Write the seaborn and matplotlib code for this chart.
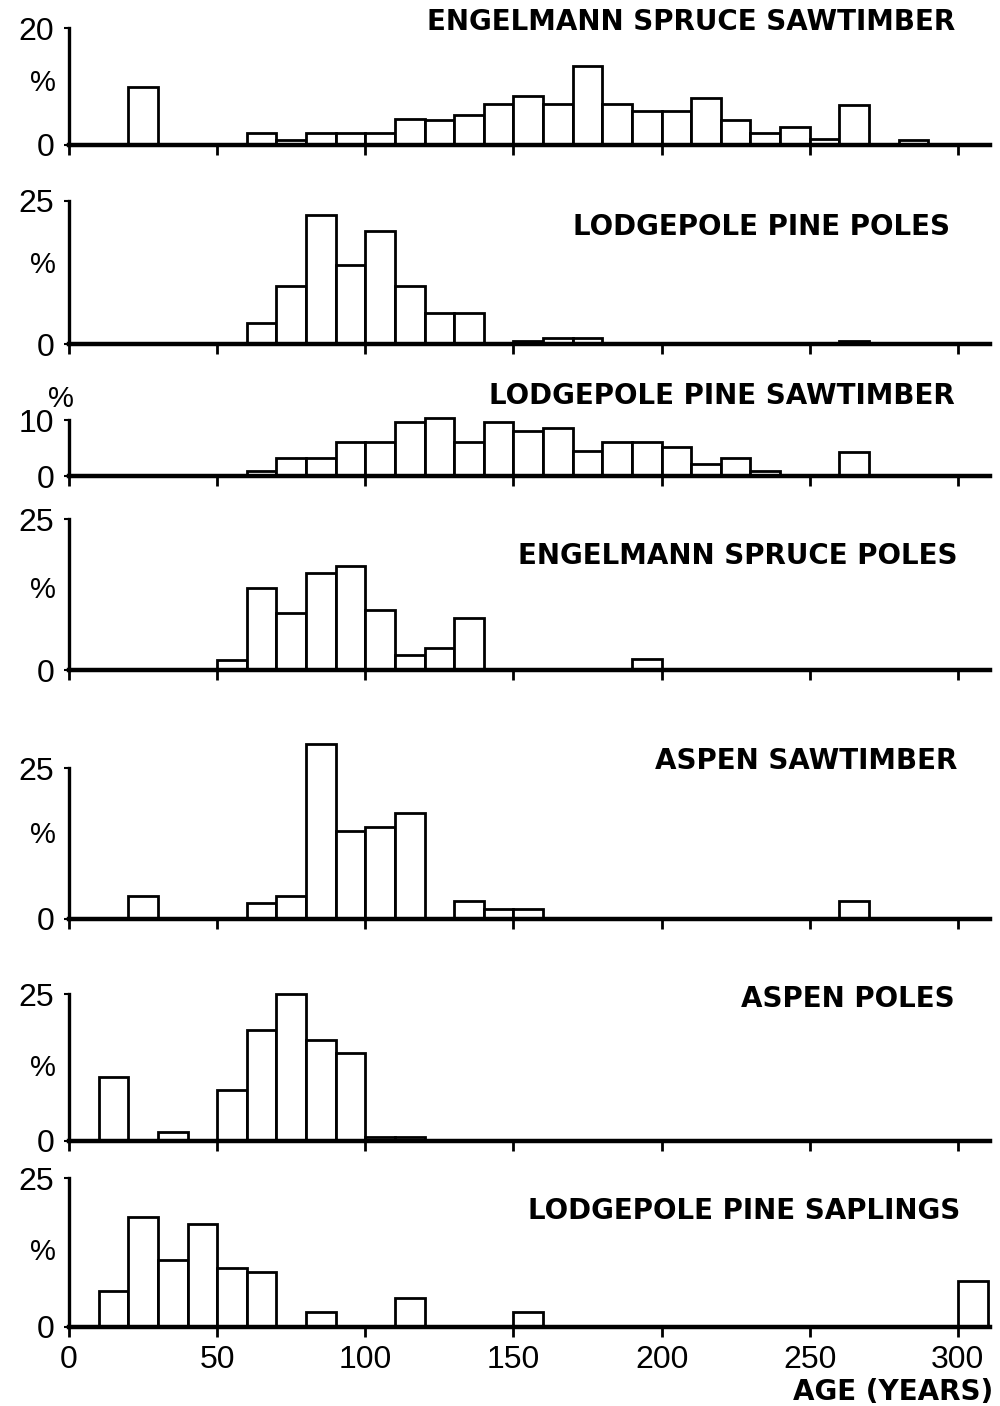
import numpy as np
import pandas as pd
import matplotlib
matplotlib.use("Agg")
import matplotlib.pyplot as plt
import seaborn as sns

# ---- data: percent of stems by 10-year age class (bin start ages) ----
es_saw_age = [20, 60, 70, 80, 90, 100, 110, 120, 130, 140, 150, 160, 170, 180,
              190, 200, 210, 220, 230, 240, 250, 260, 280]
es_saw_pct = [9.9, 2.1, 0.9, 2.0, 2.0, 2.0, 4.5, 4.3, 5.1, 7.0, 8.3, 7.0, 13.5, 7.0,
              5.8, 5.8, 8.1, 4.3, 2.1, 3.0, 1.1, 6.8, 0.8]

lp_poles_age = [60, 70, 80, 90, 100, 110, 120, 130, 150, 160, 170, 260]
lp_poles_pct = [3.6, 10.1, 22.6, 13.8, 19.8, 10.1, 5.5, 5.5, 0.5, 1.0, 1.0, 0.6]

lp_saw_age = [60, 70, 80, 90, 100, 110, 120, 130, 140, 150, 160, 170, 180, 190,
              200, 210, 220, 230, 260]
lp_saw_pct = [0.9, 3.2, 3.3, 6.1, 6.1, 9.7, 10.3, 6.1, 9.7, 8.1, 8.5, 4.5, 6.1, 6.1,
              5.1, 2.1, 3.3, 0.9, 4.3]

es_poles_age = [50, 60, 70, 80, 90, 100, 110, 120, 130, 190]
es_poles_pct = [1.7, 13.5, 9.4, 16.1, 17.2, 10.0, 2.5, 3.7, 8.6, 1.8]

asp_saw_age = [20, 60, 70, 80, 90, 100, 110, 130, 140, 150, 260]
asp_saw_pct = [3.8, 2.7, 3.8, 28.9, 14.5, 15.3, 17.5, 2.9, 1.6, 1.6, 2.9]

asp_poles_age = [10, 30, 50, 60, 70, 80, 90, 100, 110]
asp_poles_pct = [10.8, 1.6, 8.6, 18.9, 25.0, 17.1, 15.0, 0.6, 0.6]

lp_sap_age = [10, 20, 30, 40, 50, 60, 80, 110, 150, 300]
lp_sap_pct = [6.0, 18.4, 11.2, 17.3, 9.9, 9.2, 2.6, 4.9, 2.6, 7.8]

titles = ["ENGELMANN SPRUCE SAWTIMBER", "LODGEPOLE PINE POLES",
          "LODGEPOLE PINE SAWTIMBER", "ENGELMANN SPRUCE POLES",
          "ASPEN SAWTIMBER", "ASPEN POLES", "LODGEPOLE PINE SAPLINGS"]
ages = [es_saw_age, lp_poles_age, lp_saw_age, es_poles_age,
        asp_saw_age, asp_poles_age, lp_sap_age]
pcts = [es_saw_pct, lp_poles_pct, lp_saw_pct, es_poles_pct,
        asp_saw_pct, asp_poles_pct, lp_sap_pct]
y_top_ticks = [20, 25, 10, 25, 25, 25, 25]

x_ticks = [0, 50, 100, 150, 200, 250, 300]
x_label = "AGE (YEARS)"

# ---- layout (pixels on a 1000 x 1406 canvas) ----
W, H = 1000, 1406
x0_px, px_per_year = 69, 2.963
x_max = 311
# baseline, pixel of top tick, "%" position, title right edge / centre
baseline_px = [145, 344, 476, 670, 919, 1141, 1327]
toptick_px = [28, 201, 420, 519, 768, 994, 1178]
pct_pos = [(43, 83), (43, 265), (61, 399), (43, 590), (43, 835), (43, 1068), (43, 1252)]
title_pos = [(955, 22), (950, 227), (955, 396), (958, 556), (957, 761), (955, 999), (960, 1211)]

sns.set_style("ticks")
plt.rcParams["font.family"] = ["Liberation Sans", "DejaVu Sans"]
for key in ("text.color", "axes.edgecolor", "axes.labelcolor",
            "xtick.color", "ytick.color"):
    plt.rcParams[key] = "black"

fig = plt.figure(figsize=(W / 100, H / 100), dpi=100)

num_font = dict(family=["Liberation Sans", "DejaVu Sans"], size=23)
title_font = dict(family=["DejaVu Sans"], size=20, weight="bold")

for i in range(7):
    scale = (baseline_px[i] - toptick_px[i]) / y_top_ticks[i]
    y_hi = max(y_top_ticks[i], max(pcts[i])) * 1.04
    left = x0_px / W
    width = x_max * px_per_year / W
    bottom = 1 - baseline_px[i] / H
    height = y_hi * scale / H
    ax = fig.add_axes([left, bottom, width, height])

    df = pd.DataFrame({"age": [a + 5 for a in ages[i]], "pct": pcts[i]})
    sns.histplot(data=df, x="age", weights="pct", binwidth=10, binrange=(0, 310),
                 ax=ax, stat="count", color="white", edgecolor="black",
                 linewidth=2.0, alpha=1.0, shrink=1.0)

    ax.set_xlim(0, x_max)
    ax.set_ylim(0, y_hi)
    ax.set_xlabel("")
    ax.set_ylabel("")
    for s in ("top", "right"):
        ax.spines[s].set_visible(False)
    ax.spines["bottom"].set_linewidth(3.2)
    ax.spines["left"].set_linewidth(2.4)
    ax.spines["left"].set_bounds(0, y_top_ticks[i])

    ax.set_xticks(x_ticks)
    ax.tick_params(axis="x", direction="out", length=7, width=2.0, pad=6)
    ax.set_yticks([0, y_top_ticks[i]])
    ax.set_yticklabels(["0", str(y_top_ticks[i])], **num_font)
    ax.tick_params(axis="y", direction="out", length=3.5, width=1.5, pad=7)
    if i < 6:
        ax.set_xticklabels([])
    else:
        ax.set_xticklabels([str(t) for t in x_ticks], **num_font)

    px, py = pct_pos[i]
    fig.text(px / W, 1 - py / H, "%", ha="center", va="center",
             family=["Liberation Sans", "DejaVu Sans"], size=21)
    tx, ty = title_pos[i]
    fig.text(tx / W, 1 - ty / H, titles[i], ha="right", va="center", **title_font)

fig.text(993 / W, 1 - 1392 / H, x_label, ha="right", va="center", **title_font)

fig.savefig("out.png", dpi=100, facecolor="white")
